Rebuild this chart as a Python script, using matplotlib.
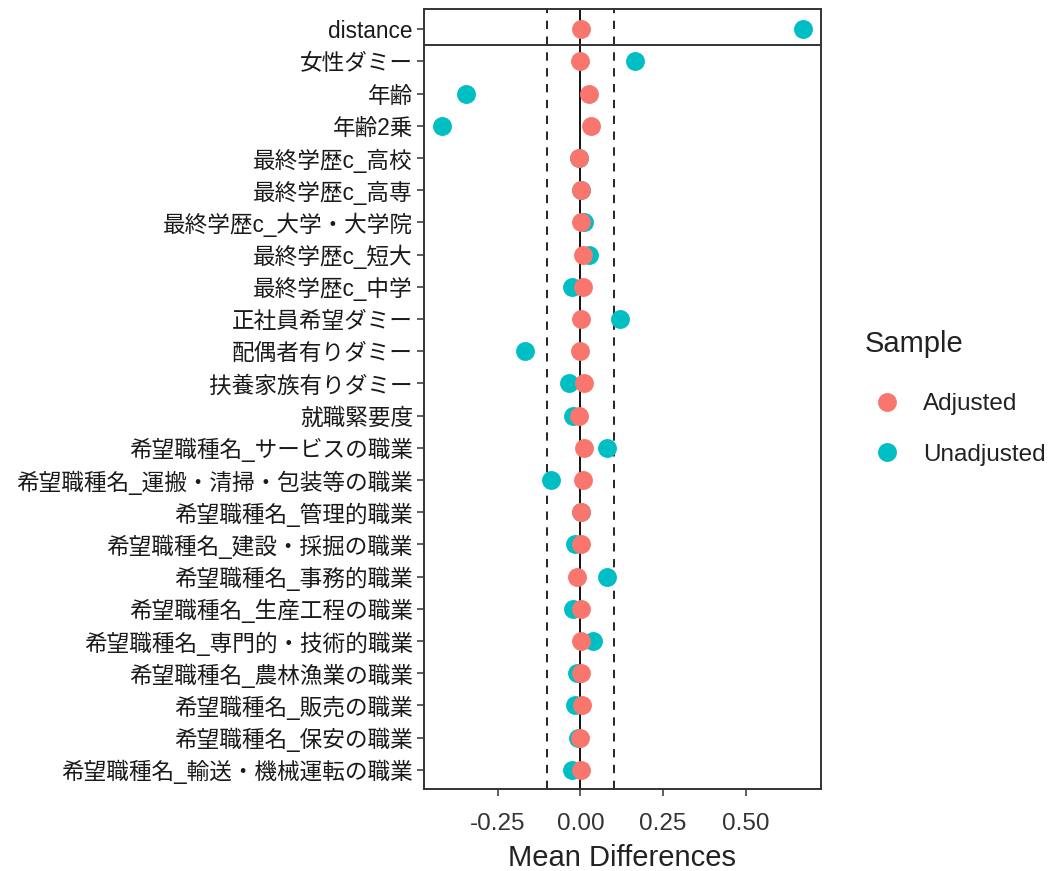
import matplotlib
matplotlib.use("Agg")
import matplotlib.pyplot as plt
from matplotlib.lines import Line2D
import numpy as np

# Covariate names (top to bottom)
covariates = [
    "distance",
    "女性ダミー",
    "年齢",
    "年齢2乗",
    "最終学歴c_高校",
    "最終学歴c_高専",
    "最終学歴c_大学・大学院",
    "最終学歴c_短大",
    "最終学歴c_中学",
    "正社員希望ダミー",
    "配偶者有りダミー",
    "扶養家族有りダミー",
    "就職緊要度",
    "希望職種名_サービスの職業",
    "希望職種名_運搬・清掃・包装等の職業",
    "希望職種名_管理的職業",
    "希望職種名_建設・採掘の職業",
    "希望職種名_事務的職業",
    "希望職種名_生産工程の職業",
    "希望職種名_専門的・技術的職業",
    "希望職種名_農林漁業の職業",
    "希望職種名_販売の職業",
    "希望職種名_保安の職業",
    "希望職種名_輸送・機械運転の職業",
]

# Mean differences after adjustment
adjusted = [0.002, 0.000, 0.025, 0.031, -0.005, 0.002, 0.002, 0.007, 0.007,
            0.002, 0.000, 0.012, -0.005, 0.012, 0.007, 0.002, 0.002, -0.010,
            0.002, 0.002, 0.002, 0.005, 0.000, 0.002]

# Mean differences before adjustment
unadjusted = [0.672, 0.164, -0.345, -0.418, -0.005, 0.002, 0.010, 0.026, -0.024,
              0.119, -0.167, -0.036, -0.022, 0.079, -0.088, 0.002, -0.016, 0.079,
              -0.022, 0.038, -0.009, -0.016, -0.007, -0.024]

threshold = 0.1
series_names = ["Adjusted", "Unadjusted"]
series_colors = ["#F8766D", "#00BFC4"]

latin = "Liberation Sans"
label_family = [latin, "Noto Sans CJK JP"]

fig = plt.figure(figsize=(10.55, 8.71), dpi=100)
ax = fig.add_axes([0.402, 0.0941, 0.376, 0.8952])

ypos = np.arange(len(covariates))

# reference lines
ax.axvline(0, color="black", lw=1.3, zorder=1)
for t in (-threshold, threshold):
    ax.axvline(t, color="black", lw=1.2, linestyle=(0, (5, 4.5)), zorder=1)
# separator between the distance row and the covariates
ax.axhline(0.5, color="#333333", lw=1.4, zorder=1)

ms = 185
ax.scatter(unadjusted, ypos, s=ms, color=series_colors[1], linewidths=0, zorder=3)
ax.scatter(adjusted, ypos, s=ms, color=series_colors[0], linewidths=0, zorder=4)

ax.margins(x=0.05)
ax.set_ylim(len(covariates) - 0.4, -0.62)
ax.set_yticks(ypos)
ax.set_yticklabels(covariates, family=label_family, fontsize=16.3, color="#1a1a1a")

ax.set_xticks([-0.25, 0.0, 0.25, 0.5])
ax.set_xticklabels(["-0.25", "0.00", "0.25", "0.50"], family=latin,
                   fontsize=17.5, color="#333333")
ax.set_xlabel("Mean Differences", family=latin, fontsize=21, color="#222222",
              labelpad=7)

ax.tick_params(axis="both", length=5, width=1.1, color="#333333", direction="out")
ax.tick_params(axis="y", pad=3)
ax.tick_params(axis="x", pad=12)

for s in ax.spines.values():
    s.set_color("#333333")
    s.set_linewidth(1.4)

handles = [Line2D([], [], marker="o", linestyle="none", markersize=13.6,
                  markerfacecolor=c, markeredgewidth=0) for c in series_colors]
leg = fig.legend(handles, series_names, title="Sample", loc="upper left",
                 bbox_to_anchor=(0.8105, 0.6326), frameon=False,
                 prop={"family": latin, "size": 17.5},
                 title_fontproperties={"family": latin, "size": 21},
                 labelspacing=1.17, handlelength=1.8, handletextpad=0.6,
                 borderaxespad=0)
leg._legend_box.align = "left"
leg._legend_box.sep += 5
for t in leg.get_texts():
    t.set_color("#222222")
leg.get_title().set_color("#222222")

fig.savefig("out.png", dpi=100, facecolor="white")
